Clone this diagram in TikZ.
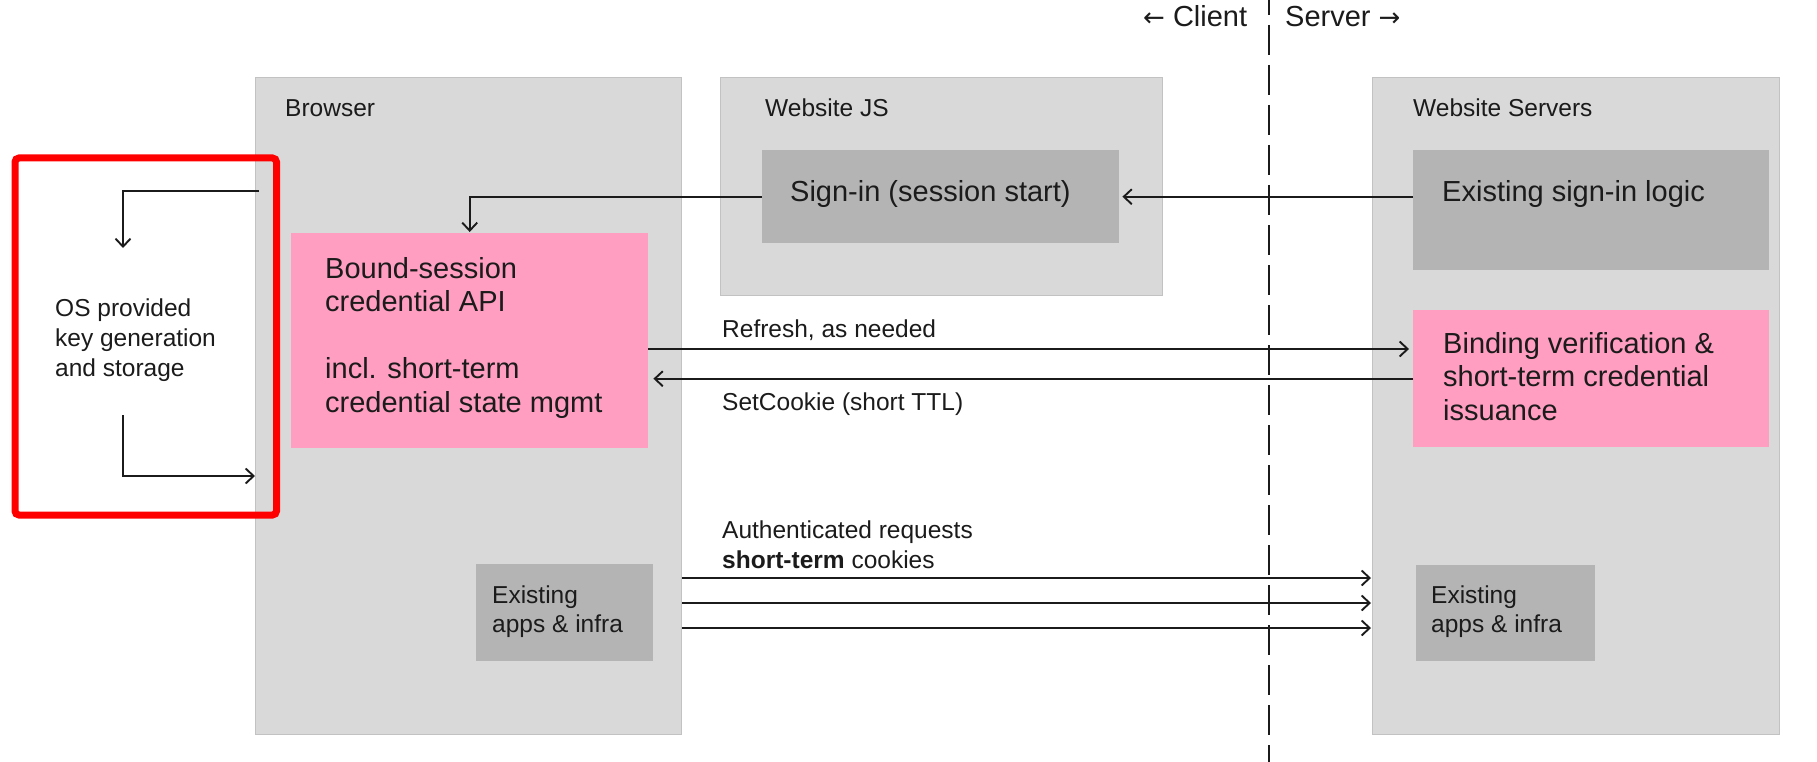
\documentclass[tikz,border=0pt]{standalone}
\usepackage{fontspec}
\setmainfont{Liberation Sans}
\newfontfamily\arrowfont{DejaVu Sans}
\usetikzlibrary{arrows.meta}
\definecolor{panelgrey}{HTML}{D9D9D9}
\definecolor{panelline}{HTML}{C2C2C2}
\definecolor{blockgrey}{HTML}{B4B4B4}
\definecolor{blockpink}{HTML}{FF9EC1}
\definecolor{ink}{HTML}{1B1B1B}
\newcommand{\smalltxt}{\fontsize{24.5}{29}\selectfont}
\newcommand{\bigtxt}{\fontsize{29}{33.5}\selectfont}
% stacked lines whose reference point is the first baseline
\newcommand{\stacklines}[1]{\begin{tabular}[t]{@{}l@{}}#1\end{tabular}}
\begin{document}
\begin{tikzpicture}[x=1pt, y=-1pt,
  panel/.style={fill=panelgrey, draw=panelline, line width=1pt, anchor=north west, inner sep=0pt},
  greyblock/.style={fill=blockgrey, draw=none, anchor=north west, inner sep=0pt},
  pinkblock/.style={fill=blockpink, draw=none, anchor=north west, inner sep=0pt},
  caption/.style={anchor=base west, inner sep=0pt, text=ink, font=\smalltxt},
  heading/.style={anchor=base west, inner sep=0pt, text=ink, font=\bigtxt},
  arr/.style={draw=ink, line width=1.9pt, -{Straight Barb[length=8pt,width=15pt]}},
]
\useasboundingbox (0,0) rectangle (1817,762);

% client / server divider
\coordinate (divtop) at (1269,0);
\coordinate (divbot) at (1269,762);
\draw[draw=ink, line width=2.2pt, dash pattern=on 30pt off 10pt, dash phase=15pt] (divtop) -- (divbot);
\node[heading] (clientlbl) at (1143,27) {{\arrowfont\fontsize{26}{30}\selectfont ←} Client};
\node[heading] (serverlbl) at (1285,27) {Server {\arrowfont\fontsize{26}{30}\selectfont →}};

% large panels
\node[panel, minimum width=426pt, minimum height=657pt] (browser) at (255,77) {};
\node[panel, minimum width=442pt, minimum height=218pt] (wjs) at (720,77) {};
\node[panel, minimum width=407pt, minimum height=657pt] (servers) at (1372,77) {};
\node[caption] (browserlbl) at (285,117) {Browser};
\node[caption] (wjslbl) at (765,117) {Website JS};
\node[caption] (serverslbl) at (1413,117) {Website Servers};

% inner blocks
\node[greyblock, minimum width=357pt, minimum height=93pt] (si) at (762,150) {};
\node[greyblock, minimum width=356pt, minimum height=120pt] (esl) at (1413,150) {};
\node[pinkblock, minimum width=356pt, minimum height=137pt] (bind) at (1413,310) {};
\node[pinkblock, minimum width=357pt, minimum height=215pt] (bsc) at (291,233) {};
\node[greyblock, minimum width=177pt, minimum height=97pt] (appsl) at (476,564) {};
\node[greyblock, minimum width=179pt, minimum height=96pt] (appsr) at (1416,565) {};

\node[heading] (sitxt) at (790,202) {Sign-in (session start)};
\node[heading] (esltxt) at (1442,201) {Existing sign-in logic};
\node[heading] (bindtxt) at (1443,353) {\stacklines{Binding verification \&\\short-term credential\\issuance}};
\node[heading] (bsctxt) at (325,278) {\stacklines{Bound-session\\credential API\\[33.5pt]incl. short-term\\credential state mgmt}};
\node[caption] (appsltxt) at (492,603) {\stacklines{Existing\\apps \& infra}};
\node[caption] (appsrtxt) at (1431,603) {\stacklines{Existing\\apps \& infra}};

% OS key storage, highlighted
\node[draw=red, line width=7pt, rounded corners=4pt, anchor=north west, inner sep=0pt,
      minimum width=261.5pt, minimum height=357pt] (osbox) at (11.5,154.5) {};
\node[caption, font=\fontsize{24.5}{30}\selectfont] (ostxt) at (55,316) {\stacklines{OS provided\\key generation\\and storage}};

% flow labels
\node[caption] (refreshlbl) at (722,337) {Refresh, as needed};
\node[caption] (cookielbl) at (722,410) {SetCookie (short TTL)};
\node[caption, font=\fontsize{24.5}{30}\selectfont] (authlbl) at (722,538) {\stacklines{Authenticated requests\\\textbf{short-term} cookies}};

% sign-in flow
\draw[arr, shorten >=3pt] (si.east -| esl.west) -- (si.east);
\draw[arr, shorten >=1pt] (si.west) -| (bsc.north);

% refresh round trip
\coordinate (rf) at (0,349);
\draw[arr, shorten >=4pt] (bsc.east |- rf) -- (bind.west |- rf);
\draw[arr, shorten >=5pt] (bind.west) -- (bind.west -| bsc.east);

% authenticated requests
\coordinate (q1) at (0,578);
\coordinate (q2) at (0,603);
\coordinate (q3) at (0,628);
\draw[arr, shorten >=1pt] (browser.east |- q1) -- (servers.west |- q1);
\draw[arr, shorten >=1pt] (browser.east |- q2) -- (servers.west |- q2);
\draw[arr, shorten >=1pt] (browser.east |- q3) -- (servers.west |- q3);

% key handoff between browser and OS
\coordinate (k1) at (123,191);
\coordinate (k2) at (123,248);
\coordinate (k3) at (123,415);
\coordinate (k4) at (0,476);
\draw[arr] ([xshift=4pt]browser.west |- k1) -- (k1) -- (k2);
\draw[arr] (k3) |- (browser.west |- k4);
\end{tikzpicture}
\end{document}
